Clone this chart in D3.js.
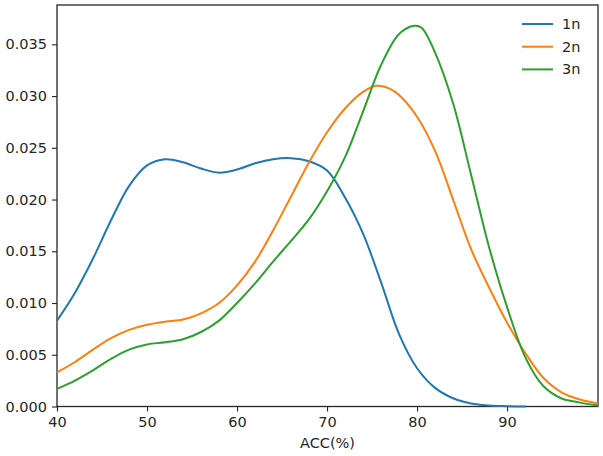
<!DOCTYPE html>
<html>
<head>
<meta charset="utf-8">
<script src="https://cdn.jsdelivr.net/npm/d3@7"></script>
<style>
  body { margin: 0; background: #fff; }
  text { font-family: "DejaVu Sans", sans-serif; fill: #262626; }
</style>
</head>
<body>
<div id="chart"></div>
<script>
// density curves (x = ACC %, y = density)
const series = ['1n', '2n', '3n'];
const colors = ['#1f77b4', '#ff7f0e', '#2ca02c'];

const acc1n = [40, 42, 44, 46, 48, 50, 52, 54, 56, 58, 60, 62, 64, 66, 68, 70, 72, 74, 76, 78, 80, 82, 84, 86, 88, 90, 92.1];
const den1n = [0.0083, 0.0110, 0.0143, 0.0180, 0.0213, 0.0233, 0.0239, 0.0236, 0.0230, 0.0226, 0.0229, 0.0235, 0.0239, 0.0240, 0.0237, 0.0228, 0.0202, 0.0167, 0.0120, 0.0070, 0.0037, 0.0018, 0.0008, 0.0003, 0.0001, 0.00003, 0.0];

const acc2n = [40, 42, 44, 46, 48, 50, 52, 54, 56, 58, 60, 62, 64, 66, 68, 70, 72, 74, 75.5, 77, 78, 80, 82, 84, 86, 88, 90, 92, 94, 96, 98, 100.1];
const den2n = [0.0033, 0.0043, 0.0055, 0.0066, 0.0074, 0.0079, 0.0082, 0.0084, 0.0090, 0.0100, 0.0117, 0.0140, 0.0170, 0.0203, 0.0236, 0.0265, 0.0288, 0.0304, 0.0310, 0.0307, 0.0301, 0.0280, 0.0247, 0.0200, 0.0152, 0.0115, 0.0081, 0.0052, 0.0028, 0.0014, 0.0007, 0.0003];

const acc3n = [40, 42, 44, 46, 48, 50, 52, 54, 56, 58, 60, 62, 64, 66, 68, 70, 72, 74, 76, 78, 79.7, 80.5, 82, 84, 86, 88, 90, 92, 94, 96, 98, 100.1];
const den3n = [0.0017, 0.0025, 0.0035, 0.0046, 0.0055, 0.0060, 0.0062, 0.0065, 0.0072, 0.0083, 0.0100, 0.0119, 0.0140, 0.0160, 0.0181, 0.0208, 0.0241, 0.0285, 0.0330, 0.0360, 0.0368, 0.0366, 0.0342, 0.0293, 0.0224, 0.0154, 0.0096, 0.0048, 0.0020, 0.0008, 0.0004, 0.0001];

const xTicks = [40, 50, 60, 70, 80, 90];
const yTicks = [0, 0.005, 0.01, 0.015, 0.02, 0.025, 0.03, 0.035];

const width = 603, height = 456;
const margin = { top: 5, right: 5, bottom: 50, left: 57 };

const svg = d3.select('#chart')
  .append('svg')
  .attr('width', width)
  .attr('height', height);

const x = d3.scaleLinear().domain([40, 100.1]).range([margin.left, width - margin.right]);
const y = d3.scaleLinear().domain([0, 0.0388]).range([height - margin.bottom + 0.5, margin.top]);

// axes
const xAxis = svg.append('g')
  .attr('transform', `translate(0,${height - margin.bottom + 0.5})`)
  .call(d3.axisBottom(x).tickValues(xTicks).tickSize(5).tickPadding(5).tickFormat(d3.format('d')));
const yAxis = svg.append('g')
  .attr('transform', `translate(${margin.left},0)`)
  .call(d3.axisLeft(y).tickValues(yTicks).tickSize(5).tickPadding(5).tickFormat(d3.format('.3f')));

[xAxis, yAxis].forEach(g => {
  g.select('.domain').remove();
  g.selectAll('.tick line').attr('stroke', '#262626').attr('stroke-width', 1.1);
  g.selectAll('.tick text').style('font-size', '14.5px').attr('fill', '#262626');
});

// frame
svg.append('rect')
  .attr('x', margin.left)
  .attr('y', margin.top)
  .attr('width', width - margin.left - margin.right)
  .attr('height', height - margin.top - margin.bottom + 0.5)
  .attr('fill', 'none')
  .attr('stroke', '#262626')
  .attr('stroke-width', 1.3);

svg.append('text')
  .attr('x', (margin.left + width - margin.right) / 2)
  .attr('y', 448)
  .attr('text-anchor', 'middle')
  .style('font-size', '14.5px')
  .text('ACC(%)');

// curves
const line = d3.line()
  .x(d => x(d[0]))
  .y(d => y(d[1]))
  .curve(d3.curveCatmullRom.alpha(0.5));

const data = [
  d3.zip(acc1n, den1n),
  d3.zip(acc2n, den2n),
  d3.zip(acc3n, den3n)
];

svg.selectAll('path.kde')
  .data(data)
  .join('path')
  .attr('class', 'kde')
  .attr('d', line)
  .attr('fill', 'none')
  .attr('stroke', (d, i) => colors[i])
  .attr('stroke-width', 2);

// legend
const legend = svg.append('g');
series.forEach((s, i) => {
  const ly = 24 + i * 22.7;
  legend.append('line')
    .attr('x1', 522).attr('x2', 553)
    .attr('y1', ly).attr('y2', ly)
    .attr('stroke', colors[i])
    .attr('stroke-width', 2);
  legend.append('text')
    .attr('x', 562)
    .attr('y', ly + 5)
    .style('font-size', '14.5px')
    .text(s);
});
</script>
</body>
</html>
